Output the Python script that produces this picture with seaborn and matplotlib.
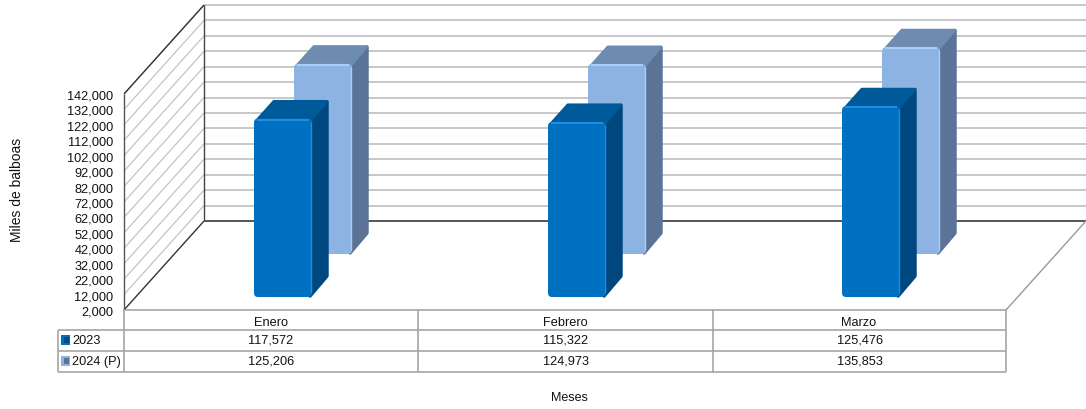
import matplotlib
matplotlib.use("Agg")
import matplotlib.pyplot as plt
import seaborn as sns
from matplotlib.patches import FancyBboxPatch, Polygon, Rectangle
from matplotlib.transforms import Affine2D

meses = ["Enero", "Febrero", "Marzo"]
valores_2023 = [117572, 115322, 125476]
valores_2024 = [125206, 124973, 135853]
ticks = [2000, 12000, 22000, 32000, 42000, 52000, 62000, 72000,
         82000, 92000, 102000, 112000, 122000, 132000, 142000]
nombres = ["2023", "2024 (P)"]

W, H = 1086, 410
BASE = ticks[0]

sns.set_theme(style="white")
plt.rcParams['font.family'] = ['Liberation Sans', 'DejaVu Sans']
plt.rcParams['font.size'] = 9

fig = plt.figure(figsize=(W / 100, H / 100), dpi=100)
ax = fig.add_axes([124 / W, 1 - 311 / H, 882 / W, 216 / H])
ax.patch.set_visible(False)

# pixel coords of the reference, y going down
px = Affine2D().scale(1, -1).translate(0, H)


def shift(dx, dy):
    # dy counts upward on screen
    return ax.transData + Affine2D().translate(dx, dy)


def to_px(x, y):
    a, b = ax.transData.transform((x, y))
    return a, H - b


def add_line(xs, ys, color, lw=1.0, z=1):
    ax.plot(xs, ys, color=color, lw=lw, transform=px, clip_on=False, zorder=z,
            solid_capstyle="butt")


def bar_3d(patch, dx, dy, front, side, top, light):
    # moves a seaborn bar to its depth and adds the rounded faces around it
    x0, w, v = patch.get_x(), patch.get_width(), patch.get_height()
    left, y_top = to_px(x0, v)
    right, y_bot = to_px(x0 + w, BASE)
    left, right = left + dx, right + dx
    y_top, y_bot = y_top - dy, y_bot - dy
    d_x, d_y = 17, 19
    z = 3 if dx > 20 else 6

    ax.add_patch(Polygon([(right - 2, y_top + 2), (right + d_x - 2, y_top - d_y + 2),
                          (right + d_x - 2, y_bot - d_y - 2), (right - 2, y_bot - 1)],
                         closed=True, fc=side, ec=side, lw=2.5, joinstyle="round",
                         transform=px, clip_on=False, zorder=z))
    ax.add_patch(Polygon([(left + 3, y_top + 2), (left + d_x + 3, y_top - d_y + 2),
                          (right + d_x - 3, y_top - d_y + 2), (right - 2, y_top + 2)],
                         closed=True, fc=top, ec=top, lw=2.5, joinstyle="round",
                         transform=px, clip_on=False, zorder=z + 0.05))
    ax.add_patch(FancyBboxPatch((left, y_top), right - left, y_bot - y_top,
                                boxstyle="round,pad=0,rounding_size=4",
                                fc=front, ec="none", transform=px,
                                clip_on=False, zorder=z + 0.1))
    # seaborn bar is the core of the front face
    patch.set_x(x0 + 4 / 294)
    patch.set_width(w - 8 / 294)
    patch.set_y(BASE)
    patch.set_height(v - BASE)
    patch.set_transform(shift(dx, dy))
    patch.set_linewidth(0)
    patch.set_edgecolor("none")
    patch.set_clip_on(False)
    patch.set_zorder(z + 0.2)
    add_line([left + 3, right - 3], [y_top + 1, y_top + 1], light, 1.5, z + 0.3)
    add_line([right - 1, right - 1], [y_top + 3, y_bot - 4], light, 1.0, z + 0.3)


# bars through seaborn, one call per series because they sit at different depths
sns.barplot(x=meses, y=valores_2024, ax=ax, width=58 / 294, color="#8DB3E2", saturation=1)
n_back = len(ax.patches)
sns.barplot(x=meses, y=valores_2023, ax=ax, width=58 / 294, color="#0070C0", saturation=1)

ax.set_xlim(-0.5, 2.5)
ax.set_ylim(BASE, ticks[-1])
ax.set_yticks(ticks)
ax.set_yticklabels([f"{t:,}" for t in ticks], fontsize=9.2, color="#111111")
ax.set_xticks(range(3))
ax.set_xticklabels(meses, fontsize=9.2, color="#111111")
ax.tick_params(axis="y", length=0, pad=7.5)
ax.tick_params(axis="x", length=0, pad=4.5)
sns.despine(ax=ax, left=True, bottom=True)
ax.set_xlabel("")
ax.set_ylabel("")

fig.canvas.draw()

bars = list(ax.patches)
for b in bars[:n_back]:
    bar_3d(b, 52, 56, "#8DB3E2", "#5A7397", "#6E8BB0", "#A9CDF7")
for b in bars[n_back:]:
    bar_3d(b, 12, 13, "#0070C0", "#00477F", "#005A9A", "#1E8FE0")

# back wall grid and side wall diagonals
ax.hlines(ticks[1:], -0.5, 2.5, colors="#C8C8C8", lw=1.4, transform=shift(80, 89),
          clip_on=False, zorder=1)
for t in ticks[1:]:
    x1, y1 = to_px(-0.5, t)
    add_line([x1, x1 + 80], [y1, y1 - 89], "#C4C4C4", 0.9)

# walls and floor
add_line([124, 124], [95, 311], "#555555", 1.0, 2)
add_line([204, 204], [6, 222], "#444444", 1.0, 2)
add_line([124, 204], [95, 6], "#333333", 1.0, 2)
add_line([124, 204], [311, 222], "#333333", 1.0, 2)
add_line([204, 1086], [222, 222], "#555555", 1.4, 2)
add_line([1006, 1086], [311, 222], "#999999", 1.0, 2)

# data table under the chart
for y in [311, 331, 352, 373]:
    add_line([124 if y == 311 else 58, 1006], [y, y], "#A6A6A6", 1.2, 2)
add_line([58, 58], [331, 373], "#A6A6A6", 1.2, 2)
for x in [124, 418, 713, 1006]:
    add_line([x, x], [311, 373], "#A6A6A6", 1.2, 2)

filas = [(valores_2023, 341, "#0070C0", "#00477F"), (valores_2024, 362, "#8DB3E2", "#5A7397")]
for nombre, (vals, y, c1, c2) in zip(nombres, filas):
    ax.add_patch(Rectangle((61, y - 5), 9, 10, fc=c1, ec="none", transform=px, clip_on=False))
    ax.add_patch(Rectangle((64, y - 3), 5, 6, fc=c2, ec="none", transform=px, clip_on=False))
    ax.text(72, y, nombre, ha="left", va="center", transform=px, fontsize=9.2, color="#111111")
    for x, v in zip([271, 566, 860], vals):
        ax.text(x, y, f"{v:,}", ha="center", va="center", transform=px, fontsize=9.2, color="#111111")

ax.text(17, 190, "Miles de balboas", rotation=90, ha="center", va="center",
        transform=px, fontsize=10, color="#111111")
ax.text(569, 398, "Meses", ha="center", va="center", transform=px, fontsize=9, color="#111111")

fig.savefig("out.png", dpi=100, facecolor="white")
